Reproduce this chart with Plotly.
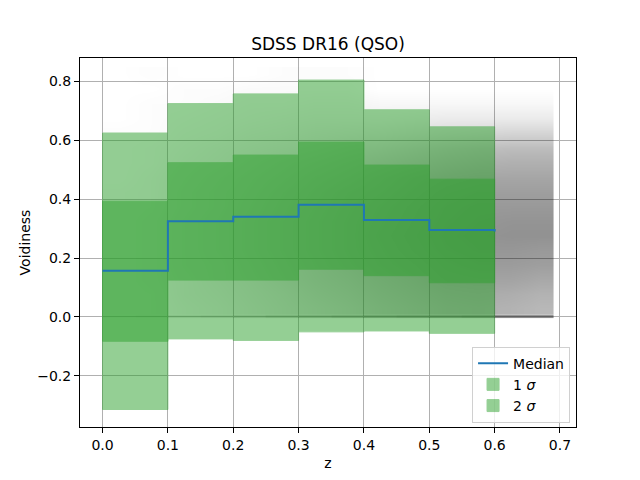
import plotly.graph_objects as go

# Redshift bins (left edges) and per-bin statistics of voidiness
bin_left = [0.0, 0.1, 0.2, 0.3, 0.4, 0.5]
bin_width = 0.1
median = [0.157, 0.325, 0.340, 0.381, 0.329, 0.295]
median_end = 0.290
sig1_lo = [-0.083, 0.125, 0.125, 0.162, 0.140, 0.116]
sig1_hi = [0.393, 0.524, 0.550, 0.594, 0.516, 0.468]
sig2_lo = [-0.315, -0.075, -0.080, -0.051, -0.048, -0.056]
sig2_hi = [0.625, 0.725, 0.758, 0.805, 0.704, 0.646]

dens_z_edges = [0.0, 0.05, 0.1, 0.15, 0.2, 0.25, 0.3, 0.35, 0.4, 0.45,
                0.5, 0.55, 0.6, 0.65, 0.69]
dens_v_edges = [0.006, 0.05, 0.1, 0.15, 0.2, 0.25, 0.3, 0.35, 0.4, 0.45,
                0.5, 0.55, 0.6, 0.65, 0.7, 0.75, 0.8, 0.85]
density = [
    [0.02, 0.03, 0.06, 0.08, 0.11, 0.14, 0.17, 0.20, 0.24, 0.27, 0.30, 0.31, 0.30, 0.28],
    [0.02, 0.03, 0.07, 0.09, 0.12, 0.15, 0.19, 0.22, 0.26, 0.29, 0.32, 0.33, 0.32, 0.30],
    [0.02, 0.04, 0.07, 0.10, 0.13, 0.17, 0.21, 0.24, 0.28, 0.31, 0.35, 0.36, 0.36, 0.34],
    [0.02, 0.04, 0.08, 0.10, 0.14, 0.18, 0.22, 0.26, 0.30, 0.33, 0.37, 0.39, 0.39, 0.38],
    [0.02, 0.04, 0.08, 0.11, 0.15, 0.19, 0.23, 0.27, 0.31, 0.35, 0.39, 0.41, 0.41, 0.40],
    [0.02, 0.04, 0.08, 0.11, 0.15, 0.19, 0.23, 0.27, 0.32, 0.36, 0.40, 0.42, 0.43, 0.43],
    [0.02, 0.04, 0.08, 0.11, 0.15, 0.19, 0.23, 0.27, 0.31, 0.35, 0.39, 0.41, 0.42, 0.42],
    [0.02, 0.03, 0.07, 0.10, 0.14, 0.18, 0.22, 0.26, 0.30, 0.34, 0.38, 0.40, 0.40, 0.40],
    [0.02, 0.03, 0.07, 0.10, 0.13, 0.17, 0.21, 0.25, 0.28, 0.32, 0.36, 0.38, 0.38, 0.38],
    [0.01, 0.03, 0.06, 0.09, 0.12, 0.15, 0.19, 0.22, 0.26, 0.30, 0.33, 0.35, 0.35, 0.35],
    [0.01, 0.02, 0.05, 0.07, 0.10, 0.13, 0.16, 0.19, 0.22, 0.25, 0.28, 0.30, 0.31, 0.31],
    [0.01, 0.02, 0.04, 0.06, 0.08, 0.10, 0.12, 0.15, 0.17, 0.20, 0.23, 0.25, 0.26, 0.26],
    [0.01, 0.01, 0.03, 0.04, 0.06, 0.07, 0.09, 0.10, 0.11, 0.13, 0.15, 0.16, 0.17, 0.17],
    [0.00, 0.01, 0.02, 0.03, 0.04, 0.05, 0.06, 0.06, 0.06, 0.07, 0.08, 0.08, 0.08, 0.08],
    [0.00, 0.01, 0.01, 0.02, 0.03, 0.03, 0.04, 0.04, 0.03, 0.03, 0.03, 0.03, 0.03, 0.03],
    [0.00, 0.00, 0.01, 0.01, 0.02, 0.02, 0.02, 0.02, 0.00, 0.00, 0.00, 0.00, 0.00, 0.00],
    [0.00, 0.01, 0.00, 0.00, 0.00, 0.01, 0.01, 0.01, 0.00, 0.00, 0.00, 0.00, 0.00, 0.00],
]
# pile-up of objects sitting exactly at voidiness = 0
zero_v_edges = [-0.003, 0.006]
zero_density = [[0.02, 0.04, 0.10, 0.13, 0.17, 0.21, 0.25, 0.29, 0.33, 0.36,
                 0.39, 0.42, 0.45, 0.45]]

GREEN = "#2ca02c"
grey_scale = [[0, "rgba(0,0,0,0)"], [1, "rgba(0,0,0,1)"]]

fig = go.Figure()

fig.add_trace(go.Heatmap(
    x=dens_z_edges, y=dens_v_edges, z=density,
    colorscale=grey_scale, zmin=0, zmax=1, showscale=False,
    zsmooth="best", hoverinfo="skip", showlegend=False,
))
fig.add_trace(go.Heatmap(
    x=dens_z_edges, y=zero_v_edges, z=zero_density,
    colorscale=grey_scale, zmin=0, zmax=1, showscale=False,
    hoverinfo="skip", showlegend=False,
))

centers = [b + bin_width / 2 for b in bin_left]

fig.add_trace(go.Bar(
    x=centers, base=sig2_lo, y=[h - l for h, l in zip(sig2_hi, sig2_lo)],
    width=bin_width, name="2 <i>σ</i>", legendrank=3,
    marker=dict(color=GREEN, line=dict(color=GREEN, width=1)), opacity=0.5,
))
fig.add_trace(go.Bar(
    x=centers, base=sig1_lo, y=[h - l for h, l in zip(sig1_hi, sig1_lo)],
    width=bin_width, name="1 <i>σ</i>", legendrank=2,
    marker=dict(color=GREEN, line=dict(color=GREEN, width=1)), opacity=0.5,
))

fig.add_trace(go.Scatter(
    x=bin_left + [bin_left[-1] + bin_width], y=median + [median_end],
    mode="lines", line=dict(color="#1f77b4", width=2, shape="hv"),
    name="Median", legendrank=1,
))

axis_common = dict(
    showline=True, linecolor="black", linewidth=1, mirror=True,
    ticks="outside", ticklen=5, tickcolor="black",
    showgrid=True, gridcolor="#b0b0b0", gridwidth=1,
    zeroline=False, tickfont=dict(size=14, color="black"),
    tickformat=".1f", automargin=False,
)

# the page body adds an 8px offset, so margins are shifted to compensate
fig.update_layout(
    width=640, height=480,
    margin=dict(l=72, r=72, t=50, b=61),
    paper_bgcolor="white", plot_bgcolor="white",
    font=dict(family="DejaVu Sans", size=14, color="black"),
    title=dict(text="SDSS DR16 (QSO)", x=0.5, xanchor="center",
               y=0.925, yanchor="middle", yref="container",
               font=dict(size=17)),
    barmode="overlay",
    xaxis=dict(axis_common, range=[-0.0345, 0.7245], dtick=0.1,
               title=dict(text="z", standoff=6, font=dict(size=14))),
    yaxis=dict(axis_common, range=[-0.3745, 0.880], dtick=0.2,
               title=dict(text="Voidiness", standoff=3, font=dict(size=14))),
    legend=dict(x=0.988, y=0.012, xanchor="right", yanchor="bottom",
                bgcolor="rgba(255,255,255,0.8)", bordercolor="#d0d0d0",
                borderwidth=1, font=dict(size=14)),
)

fig.write_html("out.html")
